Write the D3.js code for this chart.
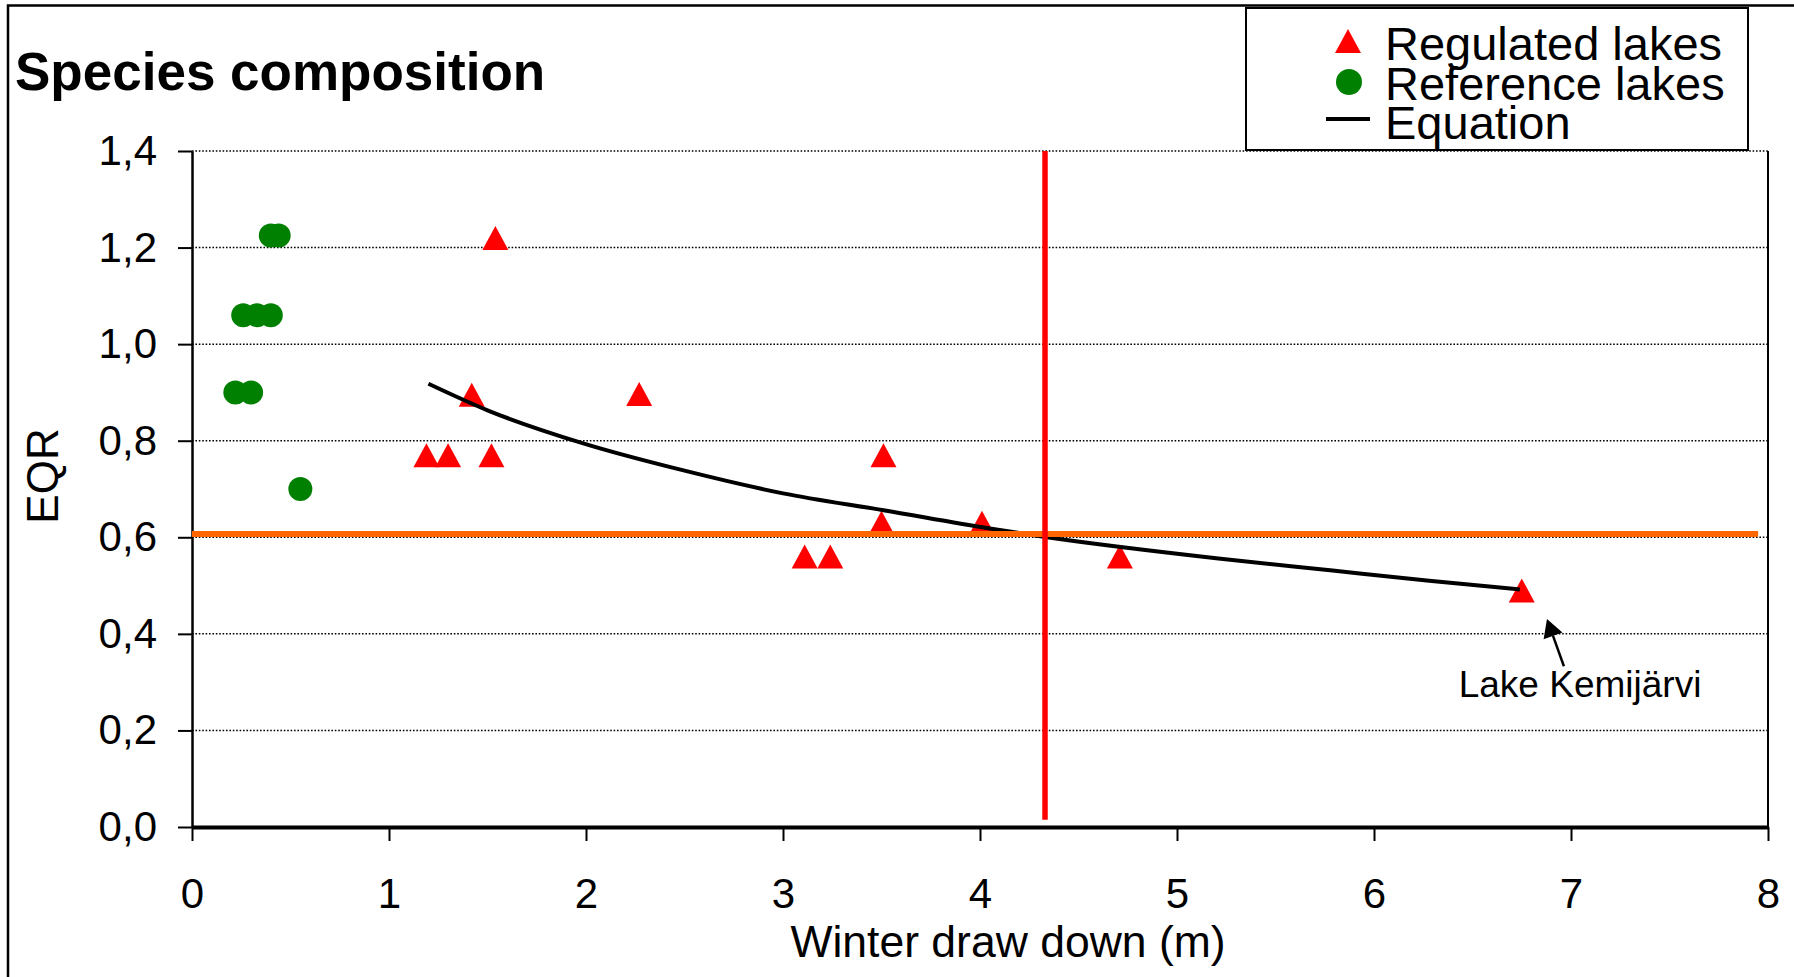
<!DOCTYPE html>
<html><head><meta charset="utf-8">
<script src="https://cdn.jsdelivr.net/npm/d3@7"></script>
<style>
html,body{margin:0;padding:0;background:#fff;}
svg{display:block;}
text{font-family:"Liberation Sans",Arial,Helvetica,sans-serif;fill:#000;}
</style></head>
<body>
<script>
// ---- data ----
const xTicks = [0,1,2,3,4,5,6,7,8];
const yTicks = [0,0.2,0.4,0.6,0.8,1.0,1.2,1.4];
const refX = [0.22,0.30,0.26,0.33,0.40,0.40,0.44,0.55];
const refY = [0.90,0.90,1.06,1.06,1.06,1.225,1.225,0.70];
const regX = [1.19,1.30,1.42,1.52,1.54,2.27,3.11,3.24,3.50,3.51,4.01,4.71,6.75];
const regY = [0.77,0.77,0.895,0.77,1.22,0.897,0.56,0.56,0.63,0.77,0.63,0.56,0.49];
const eqX = [1.20,1.50,1.99,2.49,3.00,3.51,4.05,4.34,5.21,5.79,6.28,6.74];
const eqY = [0.918,0.863,0.794,0.739,0.691,0.656,0.618,0.600,0.556,0.531,0.510,0.492];
const thresholdX = 4.33;
const thresholdY = 0.607;
const orangeEndX = 7.95;
const legendLabels = ["Regulated lakes","Reference lakes","Equation"];
const titleText = "Species composition";
const xTitle = "Winter draw down (m)";
const yTitle = "EQR";
const annText = "Lake Kemijärvi";
const annTextPos = [7.046, 0.269];
const annArrowFrom = [6.964, 0.333];
const annArrowTo = [6.878, 0.431];

// ---- layout ----
const W = 1794, H = 977;
const svg = d3.select("body").append("svg").attr("width", W).attr("height", H);
const x = d3.scaleLinear().domain([0,8]).range([192,1768]);
const y = d3.scaleLinear().domain([0,1.4]).range([827,151]);

// outer frame
svg.append("rect").attr("x",8).attr("y",5.5).attr("width",1820).attr("height",1000)
  .attr("fill","none").attr("stroke","#000").attr("stroke-width",2.5);

// title
svg.append("text").attr("x",15).attr("y",90).attr("font-size",53).attr("font-weight","bold").text(titleText);

// gridlines
svg.append("g").selectAll("line").data(yTicks.filter(d=>d>0)).join("line")
  .attr("x1",x(0)).attr("x2",x(8)).attr("y1",d=>y(d)).attr("y2",d=>y(d))
  .attr("stroke","#000").attr("stroke-width",1.5).attr("stroke-dasharray","1.6,1.8");

// plot right border
svg.append("line").attr("x1",x(8)).attr("x2",x(8)).attr("y1",y(1.4)).attr("y2",y(0))
  .attr("stroke","#000").attr("stroke-width",2);

const fmt = d => d.toFixed(1).replace(".", ",");
const gy = svg.append("g").attr("transform",`translate(${x(0)},0)`)
  .call(d3.axisLeft(y).tickValues(yTicks).tickSize(14).tickSizeOuter(0).tickPadding(21).tickFormat(fmt));
gy.select(".domain").attr("stroke","#000").attr("stroke-width",2.5);
gy.selectAll(".tick line").attr("stroke","#000").attr("stroke-width",2);
gy.selectAll(".tick text").attr("font-size",42).attr("font-family","'Liberation Sans',Arial,sans-serif").attr("fill","#000");

const gx = svg.append("g").attr("transform",`translate(0,${y(0)})`)
  .call(d3.axisBottom(x).tickValues(xTicks).tickSize(14).tickSizeOuter(0).tickPadding(37).tickFormat(d3.format("d")));
gx.select(".domain").attr("stroke","#000").attr("stroke-width",4);
gx.selectAll(".tick line").attr("stroke","#000").attr("stroke-width",2);
gx.selectAll(".tick text").attr("font-size",42).attr("font-family","'Liberation Sans',Arial,sans-serif").attr("fill","#000");

// axis titles
svg.append("text").attr("x",1008).attr("y",957).attr("text-anchor","middle").attr("font-size",44.5).text(xTitle);
svg.append("text").attr("transform","translate(58,476) rotate(-90)").attr("text-anchor","middle").attr("font-size",44).text(yTitle);

// markers
const tw = 26, th = 24;
const triPath = `M0,${-th/2}L${tw/2},${th/2}L${-tw/2},${th/2}Z`;
svg.append("g").selectAll("path").data(regX.map((v,i)=>[v,regY[i]])).join("path")
  .attr("d",triPath).attr("transform",d=>`translate(${x(d[0])},${y(d[1])})`).attr("fill","#ff0000");
svg.append("g").selectAll("circle").data(refX.map((v,i)=>[v,refY[i]])).join("circle")
  .attr("cx",d=>x(d[0])).attr("cy",d=>y(d[1])).attr("r",12).attr("fill","#008000");

// equation curve
const line = d3.line().x(d=>x(d[0])).y(d=>y(d[1])).curve(d3.curveMonotoneX);
svg.append("path").datum(eqX.map((v,i)=>[v,eqY[i]])).attr("d",line)
  .attr("fill","none").attr("stroke","#000").attr("stroke-width",4);

// thresholds
svg.append("line").attr("x1",x(0)).attr("x2",x(orangeEndX)).attr("y1",y(thresholdY)).attr("y2",y(thresholdY))
  .attr("stroke","#ff6600").attr("stroke-width",6);
svg.append("line").attr("x1",x(thresholdX)).attr("x2",x(thresholdX)).attr("y1",y(1.4)).attr("y2",y(0.015))
  .attr("stroke","#ff0000").attr("stroke-width",5.5);

// annotation
svg.append("text").attr("x",x(annTextPos[0])).attr("y",y(annTextPos[1])).attr("text-anchor","middle")
  .attr("font-size",37).text(annText);
{
  const x1 = x(annArrowFrom[0]), y1 = y(annArrowFrom[1]);
  const x2 = x(annArrowTo[0]), y2 = y(annArrowTo[1]);
  const dx = x2-x1, dy = y2-y1, len = Math.hypot(dx,dy), ux = dx/len, uy = dy/len;
  const hl = 18, hw = 10;
  const bx = x2-ux*hl, by = y2-uy*hl;
  svg.append("line").attr("x1",x1).attr("y1",y1).attr("x2",bx).attr("y2",by).attr("stroke","#000").attr("stroke-width",2.5);
  svg.append("path").attr("d",`M${x2},${y2}L${bx-uy*hw},${by+ux*hw}L${bx+uy*hw},${by-ux*hw}Z`).attr("fill","#000");
}

// legend
const lg = svg.append("g");
lg.append("rect").attr("x",1246).attr("y",8).attr("width",502).attr("height",142)
  .attr("fill","#fff").attr("stroke","#000").attr("stroke-width",2);
const rowY = [41,82,119];
const baseY = [60,100,139];
lg.append("path").attr("d",triPath).attr("transform",`translate(1348,${rowY[0]})`).attr("fill","#ff0000");
lg.append("circle").attr("cx",1349).attr("cy",rowY[1]).attr("r",13).attr("fill","#008000");
lg.append("line").attr("x1",1326).attr("x2",1370).attr("y1",rowY[2]).attr("y2",rowY[2]).attr("stroke","#000").attr("stroke-width",4);
lg.selectAll("text.l").data(legendLabels).join("text").attr("class","l")
  .attr("x",1385).attr("y",(d,i)=>baseY[i]).attr("font-size",47).text(d=>d);
</script>
</body></html>
